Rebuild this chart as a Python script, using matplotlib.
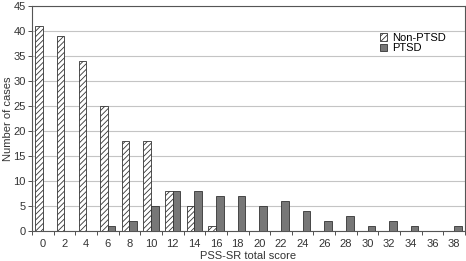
import numpy as np
from matplotlib import pyplot as plt

plt.rcParams['font.family'] = ['Liberation Sans', 'DejaVu Sans']
plt.rcParams['hatch.linewidth'] = 0.6

# PSS-SR total score categories and case counts
scores = [0, 2, 4, 6, 8, 10, 12, 14, 16, 18, 20, 22, 24, 26, 28, 30, 32, 34, 36, 38]
non_ptsd = [41, 39, 34, 25, 18, 18, 8, 5, 1, 0, 0, 0, 0, 0, 0, 0, 0, 0, 0, 0]
ptsd = [0, 0, 0, 1, 2, 5, 8, 8, 7, 7, 5, 6, 4, 2, 3, 1, 2, 1, 0, 1]

x = np.arange(len(scores))
w = 0.35

fig = plt.figure(figsize=(4.66, 2.61), dpi=100)
ax = fig.add_axes([32 / 466, 30 / 261, 433 / 466, 225 / 261])

ax.bar(x - w / 2, non_ptsd, w, facecolor='white', edgecolor='#333333',
       hatch='//////', linewidth=0.6, label='Non-PTSD', zorder=3)
ax.bar(x + w / 2, ptsd, w, facecolor='#777777', edgecolor='#333333',
       linewidth=0.6, label='PTSD', zorder=3)

ax.set_xlim(-0.5, len(scores) - 0.5)
ax.set_ylim(0, 45)
ax.set_yticks(range(0, 46, 5))
ax.set_xticks(x)
ax.set_xticklabels([str(s) for s in scores])
ax.set_xticks(np.arange(-0.5, len(scores), 1), minor=True)
ax.tick_params(axis='x', which='major', length=0, labelsize=8, colors='#333333', pad=6)
ax.tick_params(axis='x', which='minor', length=3, width=0.6, color='#333333')
ax.tick_params(axis='y', length=3, width=0.6, labelsize=8, colors='#333333', pad=1.5)
ax.yaxis.grid(True, color='#c4c4c4', linewidth=0.8, zorder=0)

for s in ax.spines.values():
    s.set_color('#555555')
    s.set_linewidth(0.8)

ax.set_xlabel('PSS-SR total score', fontsize=8, color='#333333', labelpad=1)
ax.set_ylabel('Number of cases', fontsize=8, color='#333333', labelpad=0)

ax.legend(loc='upper left', bbox_to_anchor=(0.79, 0.905), frameon=False, fontsize=8,
          handlelength=0.7, handleheight=0.7, handletextpad=0.4, labelspacing=0.05,
          borderpad=0)

fig.savefig('out.png', dpi=100)
